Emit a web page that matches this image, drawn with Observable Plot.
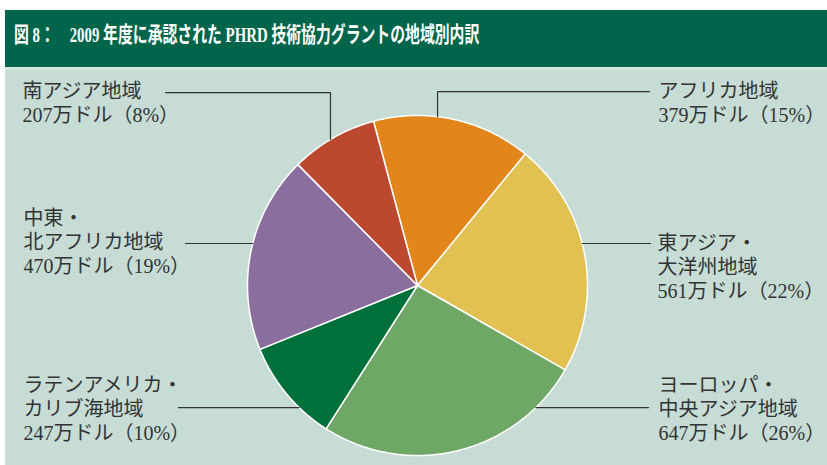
<!DOCTYPE html>
<html><head><meta charset="utf-8">
<script src="https://cdn.jsdelivr.net/npm/d3@7"></script>
<script src="https://cdn.jsdelivr.net/npm/@observablehq/plot@0.6"></script>
<style>
html,body{margin:0;padding:0;background:#fff;width:827px;height:465px;overflow:hidden}
#wrap{position:absolute;left:5px;top:10px;width:822px}
#title{position:relative;height:57px;background:#00654a;overflow:hidden}
#title span{position:absolute;left:9px;top:0;white-space:nowrap;color:#fff;font:bold 22px "Liberation Serif","Noto Sans CJK JP",serif;line-height:49px;transform:scaleX(0.675);transform-origin:left center}
#strip{height:3px;background:#d6e6df}
#chart svg{display:block}
</style></head>
<body>
<div id="wrap">
<div id="title"><span>図 8：　2009 年度に承認された PHRD 技術協力グラントの地域別内訳</span></div>
<div id="strip"></div>
<div id="chart"></div>
</div>
<script>
// ---- data ----
const regions = ["アフリカ地域","東アジア・大洋州地域","ヨーロッパ・中央アジア地域","ラテンアメリカ・カリブ海地域","中東・北アフリカ地域","南アジア地域"];
const amounts = [379, 561, 647, 247, 470, 207]; // 万ドル
const shares = [15, 22, 26, 10, 19, 8];          // %
const nameLines = [
  ["アフリカ地域"],
  ["東アジア・","大洋州地域"],
  ["ヨーロッパ・","中央アジア地域"],
  ["ラテンアメリカ・","カリブ海地域"],
  ["中東・","北アフリカ地域"],
  ["南アジア地域"]
];
const colors = ["#e2861c","#e0c152","#6fa766","#00703a","#8a6f9e","#bd4830"];

// ---- layout (in pie-radius units, y up) ----
const W = 822, H = 395, R = 170, CX = 412, CY = 215;
const startDeg = -15;
const labelLayout = [
  {tx: 1.418, ty: 1.141, kind: "elbow", lx: 0.118, ly: 1.141, ex: 1.365},
  {tx: 1.412, ty: 0.247, kind: "h", ly: 0.247, ex: 1.371},
  {tx: 1.418, ty: -0.588, kind: "h", ly: -0.718, ex: 1.359},
  {tx: -2.318, ty: -0.588, kind: "h", ly: -0.718, ex: -1.406},
  {tx: -2.318, ty: 0.394, kind: "h", ly: 0.247, ex: -1.365},
  {tx: -2.324, ty: 1.141, kind: "elbow", lx: -0.512, ly: 1.135, ex: -1.482}
];
const lineStep = 24 / R;

// ---- slices ----
const a0 = startDeg * Math.PI / 180;
const arcs = d3.pie().sort(null).startAngle(a0).endAngle(a0 + 2 * Math.PI)(amounts);
const slicePts = [];
arcs.forEach((a, i) => {
  const n = Math.max(4, Math.ceil((a.endAngle - a.startAngle) / (Math.PI / 360)));
  slicePts.push({region: regions[i], x: 0, y: 0});
  for (let k = 0; k <= n; k++) {
    const t = a.startAngle + (a.endAngle - a.startAngle) * k / n;
    slicePts.push({region: regions[i], x: Math.sin(t), y: Math.cos(t)});
  }
  slicePts.push({region: regions[i], x: 0, y: 0});
});

// ---- labels ----
const textRows = [];
const leaderPts = [];
regions.forEach((r, i) => {
  const L = labelLayout[i];
  const lines = [...nameLines[i], `${amounts[i]}万ドル（${shares[i]}%）`];
  lines.forEach((s, j) => textRows.push({x: L.tx, y: L.ty - j * lineStep, text: s}));
  if (L.kind === "elbow") {
    leaderPts.push({id: r, x: L.ex, y: L.ly});
    leaderPts.push({id: r, x: L.lx, y: L.ly});
    leaderPts.push({id: r, x: L.lx, y: Math.sqrt(1 - L.lx * L.lx)});
  } else {
    const side = Math.sign(L.ex);
    leaderPts.push({id: r, x: L.ex, y: L.ly});
    leaderPts.push({id: r, x: side * Math.sqrt(1 - L.ly * L.ly), y: L.ly});
  }
});

const font = '"Liberation Serif","Noto Sans CJK JP",serif';
const chart = Plot.plot({
  width: W, height: H, margin: 0,
  style: {background: "#c6dcd5", overflow: "visible"},
  x: {domain: [-CX / R, (W - CX) / R], axis: null},
  y: {domain: [-(H - CY) / R, CY / R], axis: null},
  color: {domain: regions, range: colors},
  marks: [
    Plot.line(slicePts, {x: "x", y: "y", z: "region", fill: "region", stroke: "#fff", strokeWidth: 1.5, strokeLinejoin: "round"}),
    Plot.line(leaderPts, {x: "x", y: "y", z: "id", stroke: "#333", strokeWidth: 1.2}),
    Plot.text(textRows, {x: "x", y: "y", text: "text", textAnchor: "start", fontSize: 20, fill: "#333", fontFamily: font})
  ]
});
document.getElementById("chart").appendChild(chart);
</script>
</body></html>
